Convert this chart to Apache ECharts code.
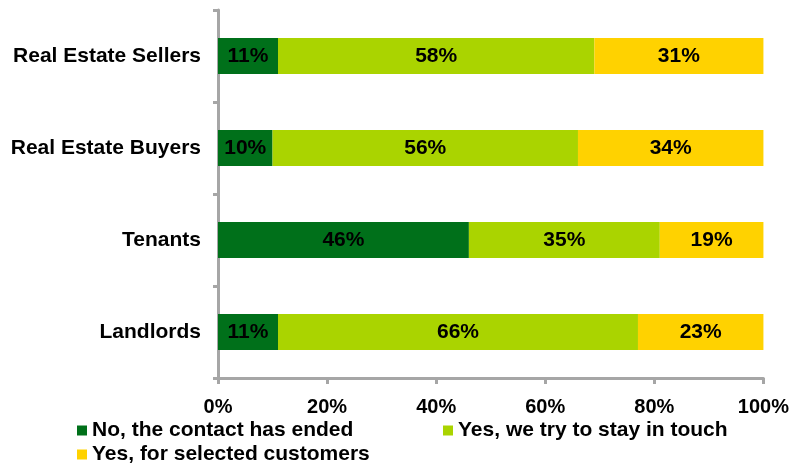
<!DOCTYPE html>
<html>
<head>
<meta charset="utf-8">
<script src="https://cdn.jsdelivr.net/npm/echarts@6/dist/echarts.min.js"></script>
<style>
  html, body { margin: 0; padding: 0; background: #ffffff; }
  #chart { width: 792px; height: 468px; }
</style>
</head>
<body>
<div id="chart"></div>
<script>
// Share of customers still in contact after the deal, by customer group
const categories = ['Real Estate Sellers', 'Real Estate Buyers', 'Tenants', 'Landlords'];
const contactEnded = [11, 10, 46, 11];
const stayInTouch = [58, 56, 35, 66];
const selectedCustomers = [31, 34, 19, 23];
const seriesNames = ['No, the contact has ended', 'Yes, we try to stay in touch', 'Yes, for selected customers'];
const xTicks = [0, 20, 40, 60, 80, 100];

const colors = ['#00701a', '#aad400', '#ffd200'];
const fontFamily = '"Liberation Sans", Arial, sans-serif';
const axisGray = '#a6a6a6';

const chart = echarts.init(document.getElementById('chart'), null, { renderer: 'canvas' });

function barSeries(name, values, color) {
  return {
    name: name,
    type: 'bar',
    stack: 'total',
    data: values,
    barWidth: 36,
    itemStyle: { color: color },
    label: {
      show: true,
      position: 'inside',
      formatter: '{c}%',
      color: '#000000',
      fontFamily: fontFamily,
      fontWeight: 'bold',
      fontSize: 21
    },
    emphasis: { disabled: true }
  };
}

function legendItem(name, left, top) {
  return {
    data: [name],
    left: left,
    top: top,
    orient: 'horizontal',
    icon: 'rect',
    itemWidth: 10,
    itemHeight: 10,
    padding: 0,
    selectedMode: false,
    textStyle: {
      color: '#000000',
      fontFamily: fontFamily,
      fontWeight: 'bold',
      fontSize: 21
    }
  };
}

chart.setOption({
  animation: false,
  color: colors,
  grid: { left: 218, right: 28, top: 10, bottom: 90, containLabel: false },
  xAxis: {
    type: 'value',
    min: xTicks[0],
    max: xTicks[xTicks.length - 1],
    interval: xTicks[1] - xTicks[0],
    axisLine: { show: true, lineStyle: { color: axisGray, width: 3 } },
    axisTick: { show: true, length: 6, lineStyle: { color: axisGray, width: 3 } },
    splitLine: { show: false },
    axisLabel: {
      formatter: '{value}%',
      color: '#000000',
      fontFamily: fontFamily,
      fontWeight: 'bold',
      fontSize: 20,
      margin: 19
    }
  },
  yAxis: {
    type: 'category',
    data: categories,
    inverse: true,
    axisLine: { show: true, lineStyle: { color: axisGray, width: 3 } },
    axisTick: { show: true, length: 5, alignWithLabel: false, lineStyle: { color: axisGray, width: 3 } },
    axisLabel: {
      color: '#000000',
      fontFamily: fontFamily,
      fontWeight: 'bold',
      fontSize: 21,
      margin: 17
    }
  },
  legend: [
    legendItem(seriesNames[0], 77, 420),
    legendItem(seriesNames[1], 443, 420),
    legendItem(seriesNames[2], 77, 444)
  ],
  series: [
    barSeries(seriesNames[0], contactEnded, colors[0]),
    barSeries(seriesNames[1], stayInTouch, colors[1]),
    barSeries(seriesNames[2], selectedCustomers, colors[2])
  ]
});
</script>
</body>
</html>
